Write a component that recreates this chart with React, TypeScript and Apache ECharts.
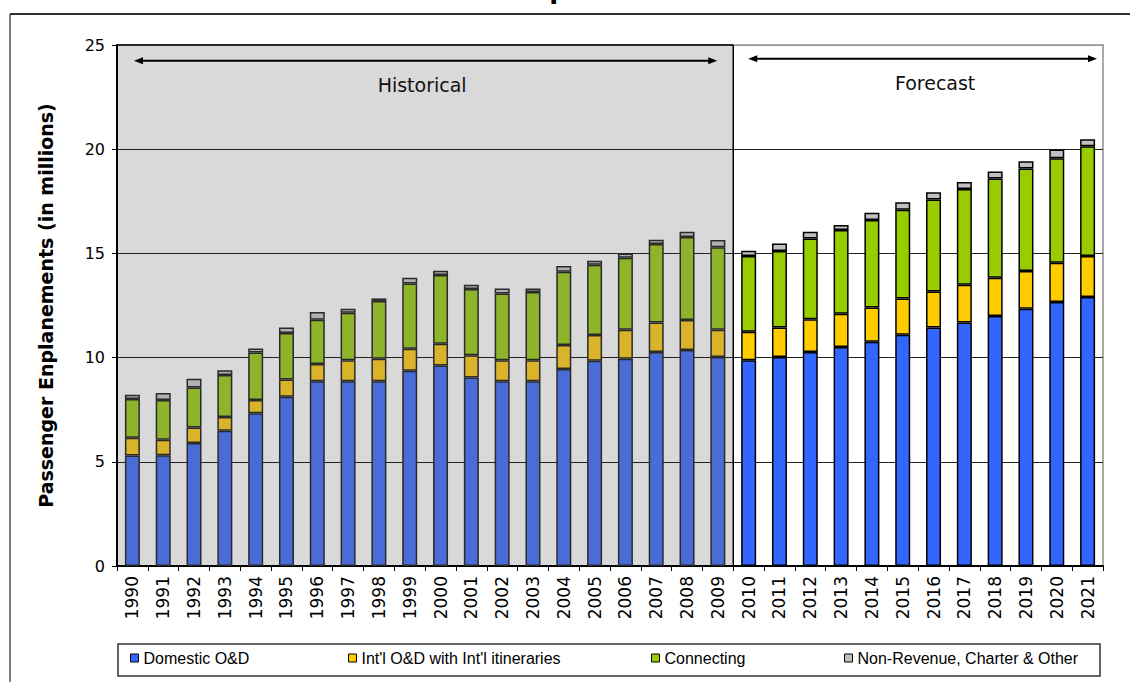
import React, { useEffect, useRef } from "react";
import * as echarts from "echarts";

const years = [
  "1990", "1991", "1992", "1993", "1994", "1995", "1996", "1997", "1998", "1999",
  "2000", "2001", "2002", "2003", "2004", "2005", "2006", "2007", "2008", "2009",
  "2010", "2011", "2012", "2013", "2014", "2015", "2016", "2017", "2018", "2019",
  "2020", "2021",
];
const domestic = [
  5.30, 5.31, 5.90, 6.49, 7.33, 8.12, 8.86, 8.86, 8.86, 9.37,
  9.62, 9.04, 8.86, 8.86, 9.45, 9.85, 9.95, 10.27, 10.36, 10.03,
  9.87, 10.03, 10.27, 10.51, 10.76, 11.10, 11.44, 11.68, 12.00, 12.35,
  12.67, 12.91,
];
const intl = [
  0.86, 0.75, 0.74, 0.66, 0.64, 0.83, 0.83, 1.01, 1.09, 1.06,
  1.05, 1.07, 1.01, 1.01, 1.15, 1.23, 1.39, 1.42, 1.44, 1.31,
  1.37, 1.41, 1.57, 1.60, 1.65, 1.73, 1.73, 1.82, 1.83, 1.81,
  1.88, 1.97,
];
const connecting = [
  1.85, 1.91, 1.92, 2.02, 2.28, 2.23, 2.13, 2.28, 2.77, 3.13,
  3.29, 3.18, 3.20, 3.28, 3.52, 3.38, 3.45, 3.76, 3.99, 3.95,
  3.64, 3.68, 3.87, 4.01, 4.19, 4.27, 4.42, 4.59, 4.76, 4.91,
  5.01, 5.26,
];
const nonRevenue = [
  0.21, 0.33, 0.43, 0.22, 0.19, 0.27, 0.37, 0.20, 0.12, 0.27,
  0.21, 0.21, 0.25, 0.17, 0.28, 0.19, 0.20, 0.21, 0.25, 0.35,
  0.25, 0.35, 0.33, 0.24, 0.35, 0.35, 0.34, 0.34, 0.34, 0.35,
  0.42, 0.34,
];
const historicalCount = 20;
const seriesNames = [
  "Domestic O&D",
  "Int'l O&D with Int'l itineraries",
  "Connecting",
  "Non-Revenue, Charter & Other",
];
const seriesValues = [domestic, intl, connecting, nonRevenue];
const forecastColors = ["#3366ff", "#ffcc00", "#99cc00", "#c0c0c0"];
const historicalColors = ["#4a6cd6", "#d9b42b", "#8db42a", "#b0b0b0"];
const legendLefts = [130, 348, 651, 844];
const yMin = 0;
const yMax = 25;
const yInterval = 5;
const yTitle = "Passenger Enplanements (in millions)";
const chartTitle = "Total Enplanements";

export default function App() {
  const ref = useRef<HTMLDivElement>(null);
  useEffect(() => {
    if (!ref.current) return;
    const chart = echarts.init(ref.current, null, { renderer: "svg" });
    const series = seriesValues.map((vals, s) => ({
      name: seriesNames[s],
      type: "bar",
      stack: "total",
      barWidth: 15,
      itemStyle: { color: forecastColors[s], borderColor: "#000", borderWidth: 1.5 },
      data: vals.map((v, i) =>
        i < historicalCount
          ? { value: v, itemStyle: { color: historicalColors[s], borderColor: "#2a2a2a" } }
          : v
      ),
    }));
    chart.setOption({
      animation: false,
      grid: {
        left: 117, right: 27, top: 45, bottom: 116,
        show: true, borderColor: "#aaa", borderWidth: 2, backgroundColor: "transparent",
      },
      legend: seriesNames.map((n, i) => ({
        data: [n],
        left: legendLefts[i],
        top: 650,
        padding: 0,
        itemWidth: 8,
        itemHeight: 8,
        icon: "rect",
        itemStyle: { borderColor: "#000", borderWidth: 1 },
        textStyle: { fontFamily: "Liberation Sans", fontSize: 16, color: "#000" },
        selectedMode: false,
      })),
      xAxis: {
        type: "category",
        data: years,
        axisLine: { lineStyle: { color: "#000", width: 2 } },
        axisTick: { show: true, length: 5, lineStyle: { color: "#000" } },
        axisLabel: {
          rotate: 90, interval: 0, fontSize: 17, fontFamily: "DejaVu Sans", color: "#000", margin: 10,
        },
      },
      yAxis: {
        type: "value",
        min: yMin,
        max: yMax,
        interval: yInterval,
        axisLine: { show: true, lineStyle: { color: "#000", width: 2 } },
        axisTick: { show: true, length: 5, lineStyle: { color: "#000" } },
        axisLabel: { fontSize: 16, fontFamily: "DejaVu Sans", color: "#000", margin: 12 },
        splitLine: {
          show: true,
          lineStyle: { color: ["#000", "#222", "#222", "#222", "#222", "#999"], width: 1 },
        },
        name: yTitle,
        nameLocation: "middle",
        nameGap: 62,
        nameTextStyle: { fontWeight: "bold", fontSize: 19, fontFamily: "DejaVu Sans", color: "#000" },
      },
      series,
    });

    const cx = (i: number) => chart.convertToPixel({ xAxisIndex: 0 }, years[i]) as number;
    const py = (v: number) => chart.convertToPixel({ yAxisIndex: 0 }, v) as number;
    const bw = cx(1) - cx(0);
    const histLeft = cx(0) - bw / 2;
    const histRight = cx(historicalCount - 1) + bw / 2;
    const plotRight = cx(years.length - 1) + bw / 2;
    const yTop = py(yMax);
    const yBot = py(yMin);
    const arrowY = py(24.25);
    const labelY = py(23.1);

    const arrow = (x1: number, x2: number, y: number) => [
      { type: "line", z: 100, shape: { x1: x1 + 4, y1: y, x2: x2 - 4, y2: y }, style: { stroke: "#000", lineWidth: 2 } },
      { type: "polygon", z: 100, shape: { points: [[x1, y], [x1 + 9, y - 3.5], [x1 + 9, y + 3.5]] }, style: { fill: "#000" } },
      { type: "polygon", z: 100, shape: { points: [[x2, y], [x2 - 9, y - 3.5], [x2 - 9, y + 3.5]] }, style: { fill: "#000" } },
    ];

    chart.setOption({
      graphic: [
        {
          type: "rect", z: -10,
          shape: { x: histLeft, y: yTop, width: histRight - histLeft, height: yBot - yTop },
          style: { fill: "#d9d9d9", stroke: "none" },
        },
        { type: "line", z: 100, shape: { x1: histLeft, y1: yTop, x2: histRight, y2: yTop }, style: { stroke: "#000", lineWidth: 1.5 } },
        { type: "line", z: 100, shape: { x1: histRight, y1: yTop, x2: histRight, y2: yBot }, style: { stroke: "#000", lineWidth: 1.5 } },
        ...arrow(histLeft + 17, histRight - 16, arrowY),
        ...arrow(histRight + 15, plotRight - 6, arrowY - 2),
        {
          type: "text", z: 100, x: (histLeft + histRight) / 2 - 3, y: labelY,
          style: { text: "Historical", fontSize: 19, fontFamily: "DejaVu Sans", fill: "#111", align: "center", verticalAlign: "middle" },
        },
        {
          type: "text", z: 100, x: (histRight + plotRight) / 2 + 17, y: labelY - 2,
          style: { text: "Forecast", fontSize: 19, fontFamily: "DejaVu Sans", fill: "#111", align: "center", verticalAlign: "middle" },
        },
        {
          type: "text", z: 100, x: 433, y: -11,
          style: { text: chartTitle, fontSize: 26, fontWeight: "bold", fontFamily: "DejaVu Sans", fill: "#000", align: "left", verticalAlign: "middle" },
        },
        { type: "line", z: 100, shape: { x1: 10, y1: 14, x2: 1130, y2: 14 }, style: { stroke: "#333", lineWidth: 2 } },
        { type: "line", z: 100, shape: { x1: 10, y1: 14, x2: 10, y2: 682 }, style: { stroke: "#000", lineWidth: 1 } },
        {
          type: "rect", z: 1,
          shape: { x: 118, y: 644, width: 982, height: 32 },
          style: { fill: "none", stroke: "#333", lineWidth: 1.5 },
        },
      ],
    });

    return () => chart.dispose();
  }, []);
  return (
    <div
      ref={ref}
      style={{ position: "absolute", left: 0, top: 0, width: 1130, height: 682, background: "#fff" }}
    />
  );
}
